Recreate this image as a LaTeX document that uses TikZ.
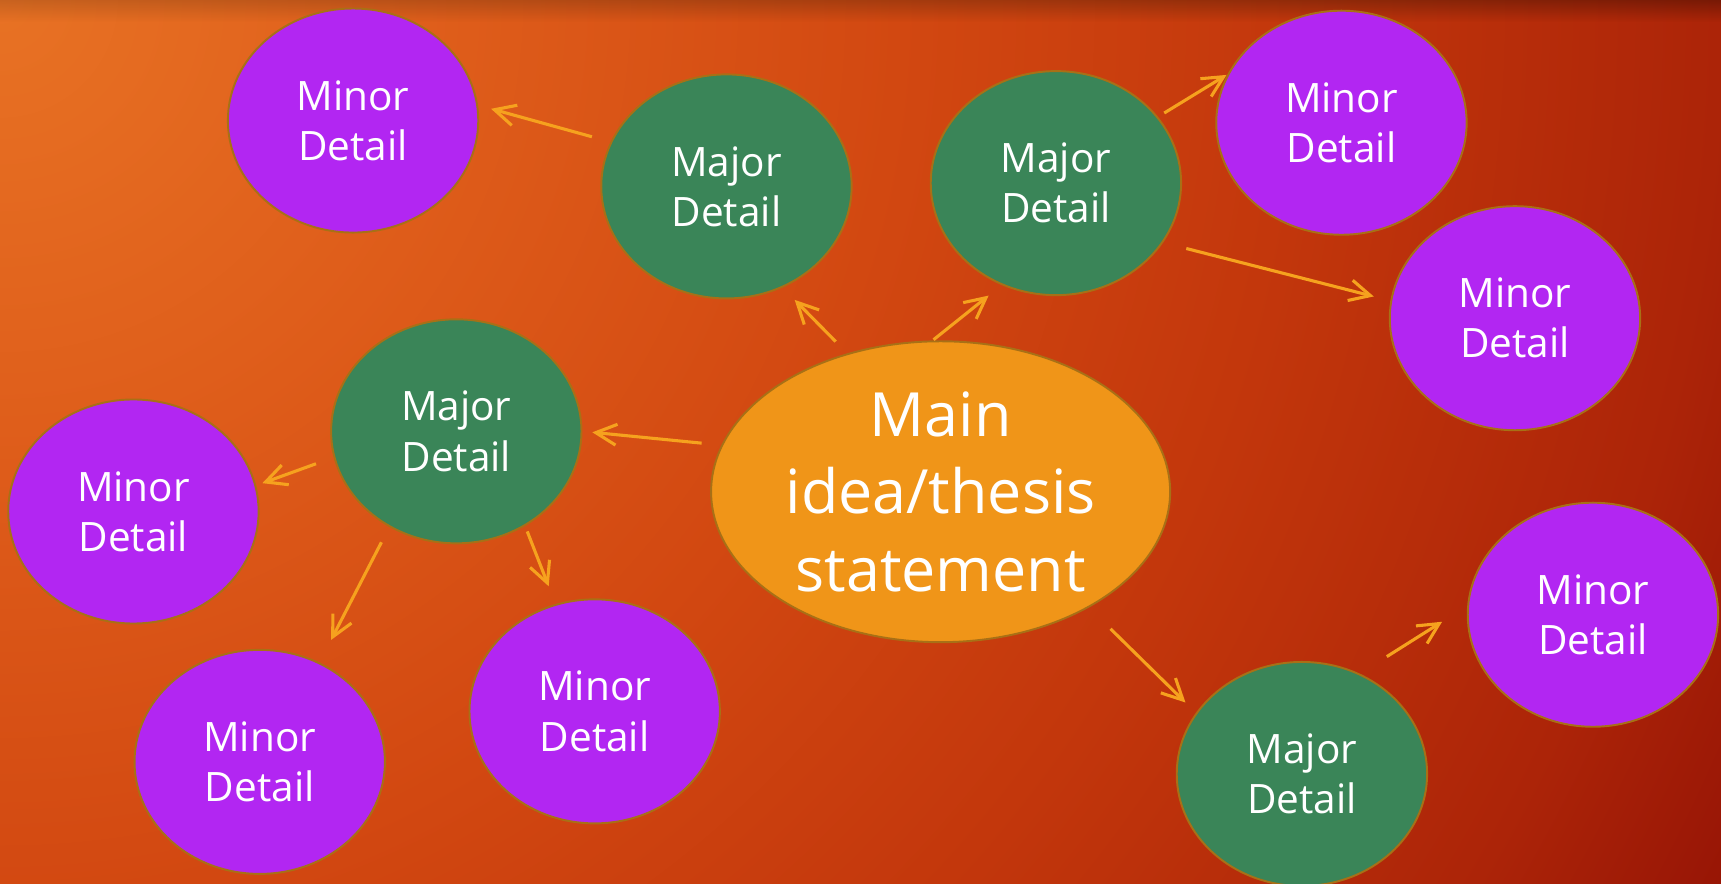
\documentclass[tikz,border=0pt]{standalone}
\usepackage{fontspec}
\setmainfont{Open Sans}
\usepackage{tikz}
\usetikzlibrary{positioning,arrows.meta,shapes.geometric,fadings}
\definecolor{bgA}{RGB}{232,114,36}
\definecolor{bgB}{RGB}{222,92,26}
\definecolor{bgC}{RGB}{210,72,17}
\definecolor{bgD}{RGB}{195,55,12}
\definecolor{bgE}{RGB}{172,36,8}
\definecolor{bgF}{RGB}{150,20,5}
\definecolor{minorPurple}{RGB}{178,38,242}
\definecolor{majorGreen}{RGB}{58,133,88}
\definecolor{mainOrange}{RGB}{240,149,24}
\definecolor{rimGold}{RGB}{168,112,22}
\definecolor{arrowGold}{RGB}{246,162,30}
\pgfdeclareradialshading{slideglow}{\pgfpoint{0bp}{0bp}}{color(0bp)=(bgA); color(6bp)=(bgB); color(11.5bp)=(bgC); color(16.5bp)=(bgD); color(22bp)=(bgE); color(25bp)=(bgF); color(50bp)=(bgF)}
\tikzset{bubble/.style={ellipse,draw=rimGold,line width=0.5pt,text=white,inner sep=0pt,align=center,minimum width=2.28cm,minimum height=2.04cm,font=\fontsize{10.5}{13}\selectfont}}
\tikzset{minor/.style={bubble,fill=minorPurple}}
\tikzset{major/.style={bubble,fill=majorGreen}}
\tikzset{thesis/.style={bubble,fill=mainOrange,inner sep=-5pt,minimum width=4.18cm,minimum height=2.74cm,font=\fontsize{15.8}{20}\selectfont}}
\tikzset{link/.style={draw=arrowGold,line width=0.8pt,-{Straight Barb[length=1.9mm,width=1.9mm]}}}

\begin{document}
\begin{tikzpicture}[x=0.01cm,y=-0.01cm]
        \useasboundingbox (0,0) rectangle (1568,805);
        \begin{scope}
            \clip (0,0) rectangle (1568,805);
            \shade[shading=slideglow] (0,0) circle (1780);
            \shade[left color=bgA!55!black,right color=black,opacity=0.3,path fading=south] (0,0) rectangle (1568,20);
        \end{scope}
        % centre and major details
        \node[thesis] (main) at (857,448) {Main\\idea/thesis\\statement};
        \node[major,on grid,above left=2.78cm and 1.95cm of main] (majT1) {Major\\Detail};
        \node[major,on grid,above right=2.81cm and 1.05cm of main] (majT2) {Major\\Detail};
        \node[major,on grid,above left=0.55cm and 4.41cm of main] (majL) {Major\\Detail};
        \node[major,on grid,below right=2.57cm and 3.29cm of main] (majBR) {Major\\Detail};
        % minor details
        \node[minor,on grid,above left=0.6cm and 3.4cm of majT1] (minTL) {Minor\\Detail};
        \node[minor,on grid,above right=0.55cm and 2.6cm of majT2] (minTR) {Minor\\Detail};
        \node[minor,on grid,below right=1.23cm and 4.18cm of majT2] (minR) {Minor\\Detail};
        \node[minor,on grid,below left=0.73cm and 2.94cm of majL] (minL) {Minor\\Detail};
        \node[minor,on grid,below left=3.01cm and 1.79cm of majL] (minBL) {Minor\\Detail};
        \node[minor,on grid,below right=2.55cm and 1.26cm of majL] (minBM) {Minor\\Detail};
        \node[minor,on grid,above right=1.45cm and 2.65cm of majBR] (minBR) {Minor\\Detail};
        % arrows
        \path[link,shorten <=1.5mm,shorten >=1.57mm] (main.124) -- (majT1.-61.1);
        \path[link,shorten <=0.1mm,shorten >=1.52mm] (main.93.7) -- (majT2.-118.3);
        \path[link,shorten <=1.8mm,shorten >=0.9mm] (main.168.3) -- (majL.0);
        \path[link,shorten <=2.75mm,shorten >=1.33mm] (main.-38) -- (majBR.150.5);
        \path[link,shorten <=1.76mm,shorten >=1.23mm] (majT1.159.6) -- (minTL.7.3);
        \path[link,shorten <=0.66mm,shorten >=0.1mm] (majT2.33.1) -- (minTR.157.1);
        \path[link,shorten <=2.17mm,shorten >=1.56mm] (majT2.-29.9) -- (minR.172.5);
        \path[link,shorten <=1.7mm,shorten >=0.6mm] (majL.-168.4) -- (minL.12.6);
        \path[link,shorten <=1.56mm,shorten >=2.3mm] (majL.-125.3) -- (minBL.59.4);
        \path[link,shorten <=0.53mm,shorten >=1.73mm] (majL.-54.2) -- (minBM.110.4);
        \path[link,shorten <=2.9mm,shorten >=2.7mm] (majBR.60.4) -- (minBR.176.8);
    \end{tikzpicture}
\end{document}
